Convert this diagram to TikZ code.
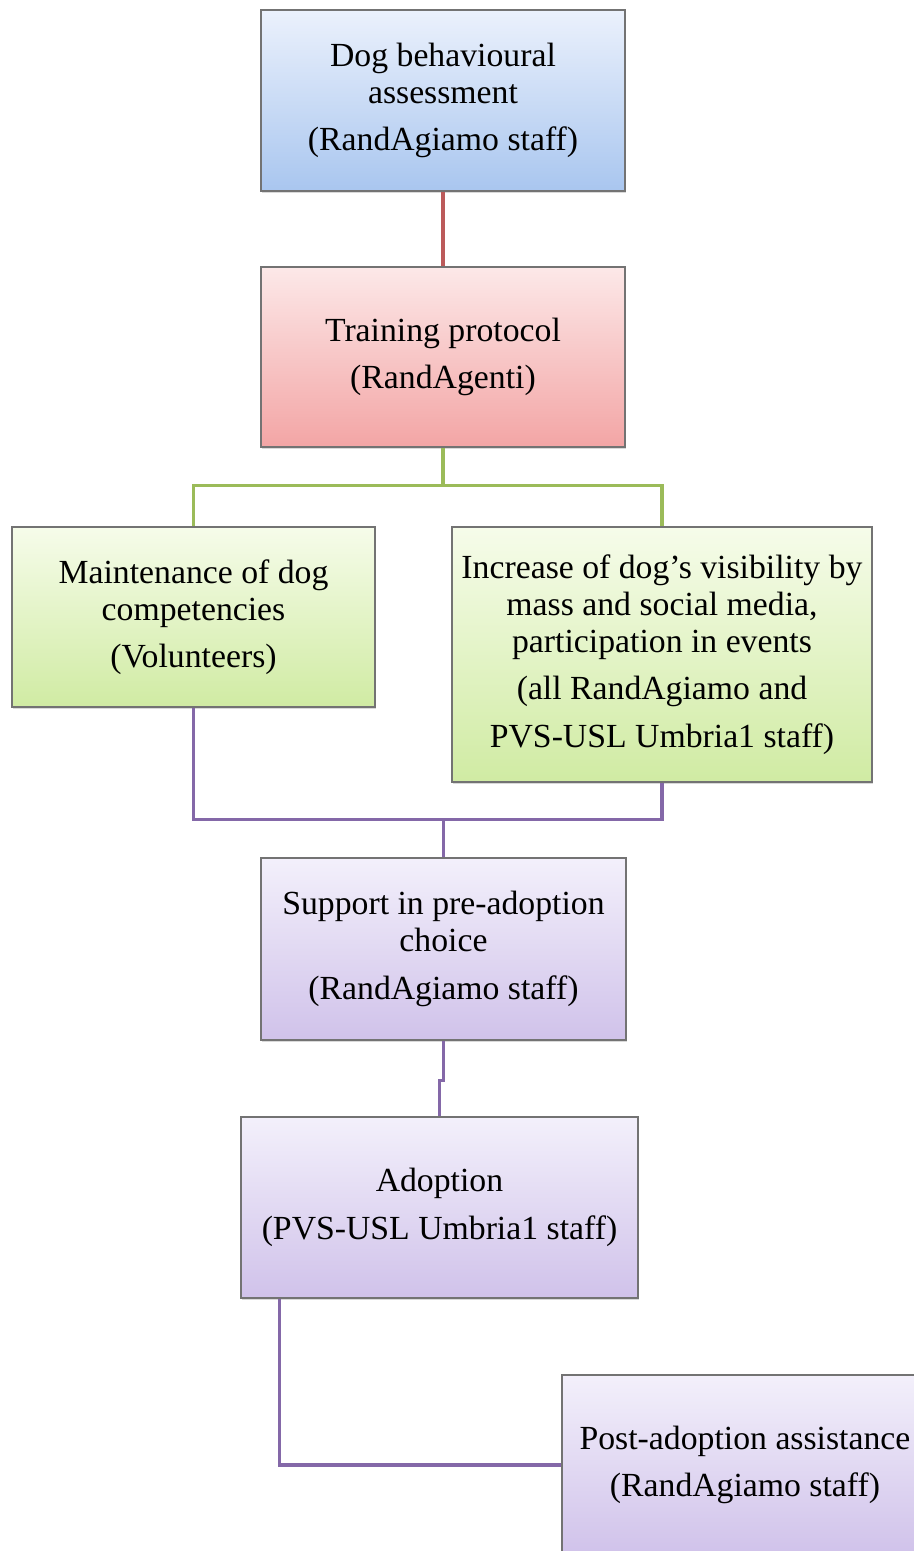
\documentclass[tikz,border=0pt]{standalone}
\usepackage{fontspec}
\setmainfont{Liberation Serif}
\usepackage{tikz}
\usetikzlibrary{shadows}

\definecolor{blueTop}{HTML}{EBF1FC}
\definecolor{blueBot}{HTML}{A9C6EF}
\definecolor{redTop}{HTML}{FCE8E8}
\definecolor{redBot}{HTML}{F3A5A5}
\definecolor{greenTop}{HTML}{F6FCEA}
\definecolor{greenBot}{HTML}{D0EBA3}
\definecolor{violetTop}{HTML}{F3F0FB}
\definecolor{violetBot}{HTML}{D0C2EA}
\definecolor{redLine}{HTML}{BC5A5A}
\definecolor{greenLine}{HTML}{9BBB59}
\definecolor{violetLine}{HTML}{8468A8}

\begin{document}
\begin{tikzpicture}[
	stepnode/.style={draw=black!55, line width=0.6pt, rectangle, align=center,
		font=\fontsize{19.2}{21}\selectfont,
		drop shadow={shadow xshift=0.7pt, shadow yshift=-1pt, opacity=0.3}},
	bluebox/.style={stepnode, top color=blueTop, bottom color=blueBot},
	redbox/.style={stepnode, top color=redTop, bottom color=redBot},
	greenbox/.style={stepnode, top color=greenTop, bottom color=greenBot},
	violetbox/.style={stepnode, top color=violetTop, bottom color=violetBot},
	link/.style={line width=2pt}
	]
			%%%%% START %%%%%
			
			\useasboundingbox (0, 0) rectangle (18.28, -31.02);
			\clip (0, 0) rectangle (18.28, -31.02);
			
			% boxes
			\node[bluebox, minimum width=7.28cm, minimum height=3.62cm] (assess) at (8.86, -2.01)
				{Dog behavioural\\assessment\\[6pt](RandAgiamo staff)};
			\node[redbox, minimum width=7.28cm, minimum height=3.6cm] (train) at (8.86, -7.14)
				{Training protocol\\[6pt](RandAgenti)};
			
			\node[greenbox, minimum width=7.26cm, minimum height=3.6cm] (maint) at (3.87, -12.34)
				{Maintenance of dog\\competencies\\[6pt](Volunteers)};
			\node[greenbox, minimum width=8.4cm, minimum height=5.1cm] (visib) at (13.24, -13.09)
				{Increase of dog’s visibility by\\mass and social media,\\participation in events\\[6pt](all RandAgiamo and\\[6pt]PVS-USL Umbria1 staff)};
			
			\node[violetbox, minimum width=7.3cm, minimum height=3.64cm] (support) at (8.87, -18.98)
				{Support in pre-adoption\\choice\\[6pt](RandAgiamo staff)};
			\node[violetbox, minimum width=7.94cm, minimum height=3.62cm] (adopt) at (8.79, -24.15)
				{Adoption\\[6pt](PVS-USL Umbria1 staff)};
			\node[violetbox, minimum width=7.32cm, minimum height=3.6cm] (post) at (14.9, -29.3)
				{Post-adoption assistance\\[6pt](RandAgiamo staff)};
			
			% connectors
			\draw[link, color=redLine] (assess.south) -- (train.north);
			
			\coordinate (split) at ([yshift=-0.76cm]train.south);
			\draw[link, color=greenLine] (train.south) -- (split);
			\draw[link, color=greenLine] (split) -| (maint.north);
			\draw[link, color=greenLine] (split) -| (visib.north);
			
			\coordinate (merge) at ([yshift=0.76cm]support.north);
			\draw[link, color=violetLine] (maint.south) |- (merge);
			\draw[link, color=violetLine] (visib.south) |- (merge);
			\draw[link, color=violetLine] (merge) -- (support.north);
			
			\draw[link, color=violetLine] (support.south) -- ++(0, -0.8) -| (adopt.north);
			\draw[link, color=violetLine] ([xshift=0.78cm]adopt.south west) |- (post.west);
			
			%%%%% END %%%%%
		\end{tikzpicture}
\end{document}
